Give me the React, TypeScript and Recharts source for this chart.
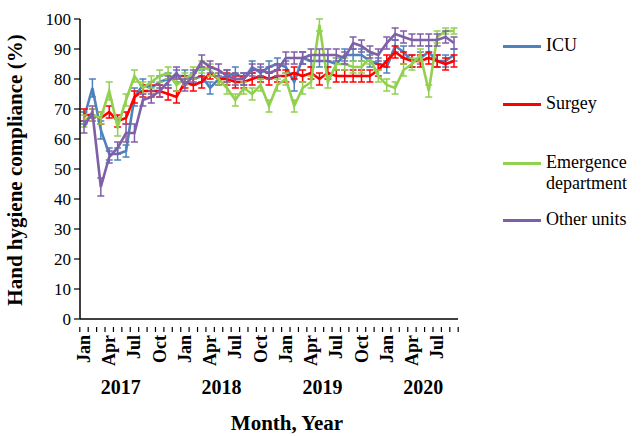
import React from 'react';
import { LineChart, Line, XAxis, YAxis, ErrorBar, Label } from 'recharts';

const years = ['2017', '2018', '2019', '2020'];
const months = ['Jan', 'Feb', 'Mar', 'Apr', 'May', 'Jun', 'Jul', 'Aug', 'Sep', 'Oct', 'Nov', 'Dec'];
const shownMonths = ['Jan', 'Apr', 'Jul', 'Oct'];
const yTicks = [0, 10, 20, 30, 40, 50, 60, 70, 80, 90, 100];

// Jan 2017 .. Sep 2020
const categories = years.flatMap((y) => months.map((m) => `${m} ${y}`)).slice(0, 45);

const icu = [67, 77, 63, 55, 55, 56, 74, 78, 77, 79, 80, 81, 81, 80, 81, 77, 80, 81, 82, 80, 84, 82, 84, 85, 84, 79, 87, 86, 86, 86, 85, 88, 88, 88, 86, 85, 84, 91, 89, 86, 87, 89, 86, 86, 88];
const surgery = [68, 68, 67, 69, 66, 67, 74, 76, 76, 76, 75, 74, 79, 78, 79, 82, 80, 80, 79, 79, 80, 81, 80, 81, 81, 82, 81, 82, 80, 82, 81, 81, 81, 81, 81, 83, 86, 89, 87, 86, 86, 87, 86, 85, 86];
const emergency = [66, 68, 67, 76, 64, 73, 81, 77, 79, 81, 82, 78, 80, 82, 84, 83, 80, 77, 73, 77, 75, 78, 71, 78, 80, 71, 77, 79, 98, 79, 85, 85, 84, 84, 87, 81, 78, 77, 83, 85, 88, 76, 94, 96, 96];
const other = [64, 69, 44, 54, 57, 62, 62, 73, 74, 76, 79, 82, 78, 81, 86, 84, 83, 81, 80, 80, 83, 83, 82, 83, 87, 87, 87, 88, 88, 88, 88, 87, 92, 91, 89, 88, 92, 95, 94, 93, 93, 93, 93, 94, 92];

const icuErr = [2, 3, 3, 2, 2, 2, 3, 2, 2, 2, 2, 2, 2, 2, 2, 2, 2, 2, 2, 2, 2, 2, 2, 2, 2, 3, 2, 2, 2, 2, 2, 2, 2, 2, 2, 2, 2, 2, 2, 2, 2, 2, 2, 2, 2];
const surgeryErr = [2, 2, 2, 2, 2, 2, 2, 2, 2, 2, 2, 2, 2, 2, 2, 2, 2, 2, 2, 2, 2, 2, 2, 2, 2, 2, 2, 2, 2, 2, 2, 2, 2, 2, 2, 2, 2, 2, 2, 2, 2, 2, 2, 2, 2];
const emergencyErr = [2, 2, 2, 3, 3, 2, 2, 2, 2, 2, 2, 2, 2, 2, 2, 2, 2, 2, 2, 2, 2, 2, 2, 2, 2, 2, 2, 2, 2, 2, 2, 2, 2, 2, 2, 2, 2, 2, 2, 2, 2, 2, 2, 1, 1];
const otherErr = [2, 2, 3, 2, 2, 3, 3, 2, 2, 2, 2, 2, 2, 2, 2, 2, 2, 2, 2, 2, 2, 2, 2, 2, 2, 2, 2, 2, 2, 2, 2, 2, 2, 2, 2, 2, 2, 2, 2, 2, 2, 2, 2, 2, 2];

const series = [
  { key: 'icu', name: 'ICU', color: '#4F81BD' },
  { key: 'surgery', name: 'Surgey', color: '#FF0000' },
  { key: 'emergency', name: 'Emergence department', color: '#92D050' },
  { key: 'other', name: 'Other units', color: '#7F5FA8' },
];

const data = categories.map((c, i) => ({
  cat: c,
  icu: icu[i],
  icuErr: icuErr[i],
  surgery: surgery[i],
  surgeryErr: surgeryErr[i],
  emergency: emergency[i],
  emergencyErr: emergencyErr[i],
  other: other[i],
  otherErr: otherErr[i],
}));

const FONT = '"Liberation Serif", "Times New Roman", serif';
const HALF_BAND = 4.2;

const MonthTick = (props: any) => {
  const { x, y, payload, index } = props;
  const [m] = String(payload.value).split(' ');
  const yearIdx = Math.floor(index / 12);
  return (
    <g>
      <line x1={x - HALF_BAND} y1={y} x2={x - HALF_BAND} y2={y + 5} stroke="#000" strokeWidth={1.2} />
      {index === categories.length - 1 && (
        <line x1={x + HALF_BAND} y1={y} x2={x + HALF_BAND} y2={y + 5} stroke="#000" strokeWidth={1.2} />
      )}
      {shownMonths.includes(m) && (
        <text
          x={x + 6}
          y={y + 8}
          transform={`rotate(-90 ${x + 6} ${y + 8})`}
          textAnchor="end"
          fontFamily={FONT}
          fontWeight="bold"
          fontSize={18}
          fill="#000"
        >
          {m}
        </text>
      )}
      {index % 12 === 4 && (
        <text x={x + 3} y={y + 67} textAnchor="middle" fontFamily={FONT} fontWeight="bold" fontSize={20} fill="#000">
          {years[yearIdx]}
        </text>
      )}
    </g>
  );
};

const ChartLegend = () => (
  <div
    style={{
      position: 'absolute',
      left: 503,
      top: 35,
      width: 141,
      fontFamily: FONT,
      fontSize: 18,
      color: '#000',
      lineHeight: '21px',
    }}
  >
    {series.map((s, i) => (
      <div key={s.key} style={{ display: 'flex', alignItems: 'flex-start', height: i === 0 ? 58 : i === 1 ? 59 : 57 }}>
        <div style={{ width: 38, height: 3, background: s.color, marginTop: 10, marginRight: 5, flex: 'none' }} />
        <div style={{ width: 95 }}>{s.name}</div>
      </div>
    ))}
  </div>
);

export default function App() {
  return (
    <div style={{ position: 'absolute', left: 0, top: 0, width: 644, height: 436, background: '#fff' }}>
      <LineChart width={644} height={436} data={data} margin={{ top: 19, right: 186, left: 0, bottom: 0 }}>
        <XAxis
          dataKey="cat"
          interval={0}
          tick={<MonthTick />}
          tickLine={false}
          height={117}
          padding={{ left: 4, right: 4 }}
          axisLine={{ stroke: '#000', strokeWidth: 1.5 }}
        >
          <Label
            content={() => (
              <text x={287} y={430} textAnchor="middle" fontFamily={FONT} fontWeight="bold" fontSize={21} fill="#000">
                Month, Year
              </text>
            )}
          />
        </XAxis>
        <YAxis
          domain={[0, 100]}
          ticks={yTicks}
          interval={0}
          width={80}
          tickSize={6}
          tickMargin={3}
          tick={{ fill: '#000', fontFamily: FONT, fontSize: 17 }}
          tickLine={{ stroke: '#000', strokeWidth: 1.2 }}
          axisLine={{ stroke: '#000', strokeWidth: 1.5 }}
        >
          <Label
            content={() => (
              <text
                x={22}
                y={170}
                transform="rotate(-90 22 170)"
                textAnchor="middle"
                fontFamily={FONT}
                fontWeight="bold"
                fontSize={21}
                fill="#000"
              >
                Hand hygiene compliance (%)
              </text>
            )}
          />
        </YAxis>
        {series.map((s) => (
          <Line
            key={s.key}
            type="linear"
            dataKey={s.key}
            name={s.name}
            stroke={s.color}
            strokeWidth={2.6}
            dot={false}
            activeDot={false}
            isAnimationActive={false}
          >
            <ErrorBar
              dataKey={`${s.key}Err`}
              direction="y"
              width={3.5}
              stroke={s.color}
              strokeWidth={1.5}
              isAnimationActive={false}
            />
          </Line>
        ))}
      </LineChart>
      <ChartLegend />
    </div>
  );
}
